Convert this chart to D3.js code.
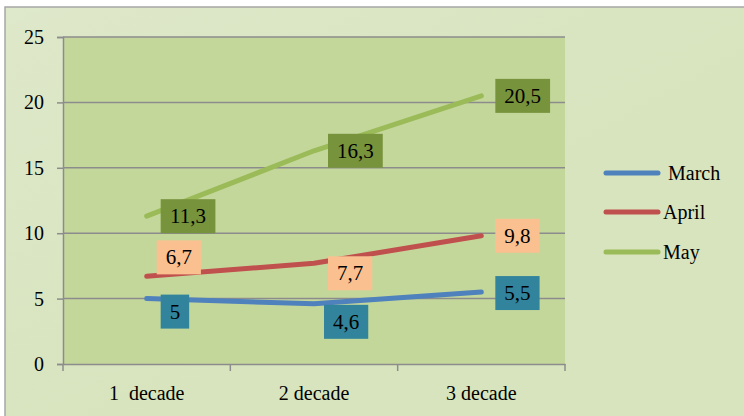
<!DOCTYPE html>
<html>
<head>
<meta charset="utf-8">
<script src="https://cdn.jsdelivr.net/npm/d3@7"></script>
<style>
  html, body { margin: 0; padding: 0; background: #ffffff; }
  svg { display: block; }
  #chart text { font-family: 'Times New Roman', Tinos, 'Liberation Serif', serif !important; }
</style>
</head>
<body>
<svg id="chart" width="744" height="416" style="font-family: 'Times New Roman', Tinos, 'Liberation Serif', serif"></svg>
<script>
// Decade categories and monthly series
const categories = ["1  decade", "2 decade", "3 decade"];
const seriesNames = ["March", "April", "May"];
const marchValues = [5, 4.6, 5.5];
const aprilValues = [6.7, 7.7, 9.8];
const mayValues = [11.3, 16.3, 20.5];
const yTicks = [0, 5, 10, 15, 20, 25];

const seriesValues = [marchValues, aprilValues, mayValues];
const lineColors = ["#4F81BD", "#C0504D", "#9BBB59"];
const labelFills = ["#31849B", "#FAC090", "#77933C"];
const FONT = "'Times New Roman', Tinos, 'Liberation Serif', serif";

// Hand-placed nudges for data labels that would otherwise collide [dx, dy]
const labelNudge = [
  [[0, 13], [-4, 18], [0, 1]],
  [[-4, -19], [0, 10], [0, 0]],
  [[0, 0], [0, 0], [0, 0]]
];

const svg = d3.select("#chart");
const W = 744, H = 416;

// Outer chart area with soft gradient
const defs = svg.append("defs");
const grad = defs.append("linearGradient").attr("id", "bg")
  .attr("x1", "0").attr("y1", "0").attr("x2", "0.6").attr("y2", "0.6");
grad.append("stop").attr("offset", "0").attr("stop-color", "#DEE8CA");
grad.append("stop").attr("offset", "1").attr("stop-color", "#D7E4BD");

svg.append("rect")
  .attr("x", 5).attr("y", 7).attr("width", W).attr("height", H)
  .attr("fill", "url(#bg)")
  .attr("stroke", "#A6A6A6").attr("stroke-width", 1.5);

const plot = { left: 63, top: 37, right: 565, bottom: 364 };

const x = d3.scaleBand().domain(categories).range([plot.left, plot.right]);
const y = d3.scaleLinear().domain([0, 25]).range([plot.bottom, plot.top]);

// Plot area
svg.append("rect")
  .attr("x", plot.left).attr("y", plot.top)
  .attr("width", plot.right - plot.left).attr("height", plot.bottom - plot.top)
  .attr("fill", "#C4D79B");

// Horizontal gridlines
svg.append("g").selectAll("line").data(yTicks.filter(d => d > 0)).join("line")
  .attr("x1", plot.left).attr("x2", plot.right)
  .attr("y1", d => y(d)).attr("y2", d => y(d))
  .attr("stroke", "#8C8C8C").attr("stroke-width", 1.5);

// Y axis
const yAxis = svg.append("g")
  .attr("transform", `translate(${plot.left},0)`)
  .call(d3.axisLeft(y).tickValues(yTicks).tickSize(6).tickPadding(13).tickFormat(d3.format("d")))
  .attr("font-family", FONT).attr("font-size", 20);
yAxis.select(".domain").attr("stroke", "#8C8C8C").attr("stroke-width", 1.5);
yAxis.selectAll(".tick line").attr("stroke", "#8C8C8C").attr("stroke-width", 1.5);
yAxis.selectAll(".tick text")
  .style("font-family", FONT).style("font-size", "20px").attr("fill", "#000");

// X axis with boundary ticks between categories
const xAxis = svg.append("g")
  .attr("transform", `translate(0,${plot.bottom})`)
  .call(d3.axisBottom(x).tickSize(0).tickPadding(22))
  .attr("font-family", FONT).attr("font-size", 20);
xAxis.select(".domain").attr("stroke", "#8C8C8C").attr("stroke-width", 1.5);
xAxis.selectAll(".tick text")
  .style("font-family", FONT).style("font-size", "20px").attr("fill", "#000")
  .style("white-space", "pre");
const boundaries = categories.map(c => x(c)).concat([x(categories[categories.length - 1]) + x.bandwidth()]);
xAxis.selectAll("line.bound").data(boundaries).join("line")
  .attr("class", "bound")
  .attr("x1", d => d).attr("x2", d => d)
  .attr("y1", 0).attr("y2", 7)
  .attr("stroke", "#8C8C8C").attr("stroke-width", 1.5);

const cx = c => x(c) + x.bandwidth() / 2;

// Series lines
const line = d3.line().x((d, i) => cx(categories[i])).y(d => y(d));
svg.append("g").selectAll("path").data(seriesValues).join("path")
  .attr("d", d => line(d))
  .attr("fill", "none")
  .attr("stroke", (d, i) => lineColors[i])
  .attr("stroke-width", 5)
  .attr("stroke-linecap", "round")
  .attr("stroke-linejoin", "round");

// Data labels in filled boxes, placed to the right of each point.
// Box width follows the serif digit advance (0.5em) and comma (0.25em).
const fmt = v => String(v).replace(".", ",");
const LABEL_SIZE = 21;
const textWidth = s => Array.from(s).reduce((w, ch) => w + (ch === "," ? 0.25 : 0.5), 0) * LABEL_SIZE;
const labelLayer = svg.append("g");
seriesValues.forEach((vals, s) => {
  vals.forEach((v, i) => {
    const px = cx(categories[i]), py = y(v);
    const [ndx, ndy] = labelNudge[s][i];
    const str = fmt(v);
    const bw = textWidth(str) + 18, bh = 34;
    const left = px + 14 + ndx;
    const midY = py + ndy;
    const g = labelLayer.append("g");
    g.append("rect")
      .attr("x", left).attr("y", midY - bh / 2)
      .attr("width", bw).attr("height", bh)
      .attr("fill", labelFills[s]);
    g.append("text")
      .style("font-family", FONT).style("font-size", LABEL_SIZE + "px")
      .attr("fill", "#000")
      .attr("text-anchor", "middle")
      .attr("x", left + bw / 2).attr("y", midY + 7)
      .text(str);
  });
});

// Legend
const legendY = [173, 212, 252];
const legend = svg.append("g");
seriesNames.forEach((name, i) => {
  legend.append("line")
    .attr("x1", 606).attr("x2", 658)
    .attr("y1", legendY[i]).attr("y2", legendY[i])
    .attr("stroke", lineColors[i]).attr("stroke-width", 5)
    .attr("stroke-linecap", "round");
  legend.append("text")
    .attr("x", i === 0 ? 668 : 663).attr("y", legendY[i] + 7)
    .style("font-family", FONT).style("font-size", "20px")
    .attr("fill", "#000")
    .text(name);
});
</script>
</body>
</html>
